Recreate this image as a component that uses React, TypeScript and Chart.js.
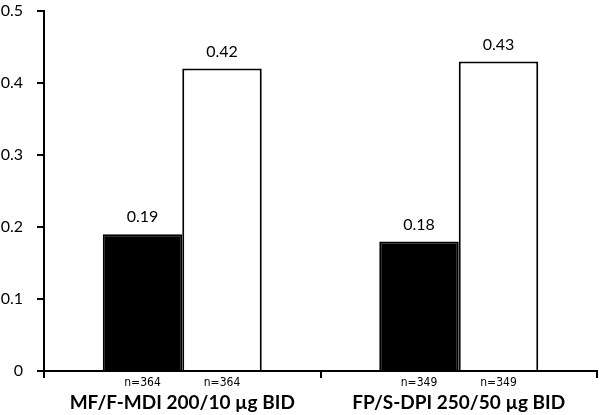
import { useEffect, useRef } from 'react';
import Chart from 'chart.js/auto';

const categories = ['MF/F-MDI 200/10 µg BID', 'FP/S-DPI 250/50 µg BID'];
const firstValues = [0.19, 0.18];
const secondValues = [0.42, 0.43];
const firstCounts = ['n=364', 'n=349'];
const secondCounts = ['n=364', 'n=349'];
const yTicks = [0, 0.1, 0.2, 0.3, 0.4, 0.5];

const FONT = 'Lato, "Open Sans", sans-serif';
const NARROW = '"Liberation Sans Narrow", "DejaVu Sans Condensed", sans-serif';

const barLabels = {
  id: 'barLabels',
  afterDatasetsDraw(chart: Chart) {
    const { ctx, chartArea } = chart;
    const counts = [firstCounts, secondCounts];
    ctx.save();
    ctx.fillStyle = '#000';
    ctx.textAlign = 'center';
    chart.data.datasets.forEach((ds, i) => {
      const meta = chart.getDatasetMeta(i);
      meta.data.forEach((bar: any, j: number) => {
        const v = ds.data[j] as number;
        ctx.font = `16px ${FONT}`;
        ctx.textBaseline = 'bottom';
        ctx.fillText(v.toFixed(2), bar.x, bar.y - 9);
        ctx.font = `12px ${NARROW}`;
        ctx.textBaseline = 'middle';
        ctx.fillText(counts[i][j], bar.x, chartArea.bottom + 12);
      });
    });
    ctx.restore();
  },
};

const App = () => {
  const chartRef = useRef<HTMLCanvasElement>(null);
  const chartInstance = useRef<Chart | null>(null);

  useEffect(() => {
    if (!chartRef.current) return;
    const ctx = chartRef.current.getContext('2d');
    if (!ctx) return;
    if (chartInstance.current) chartInstance.current.destroy();

    chartInstance.current = new Chart(ctx, {
      type: 'bar',
      data: {
        labels: categories,
        datasets: [
          {
            data: firstValues,
            backgroundColor: '#000',
            borderColor: '#000',
            borderWidth: 2,
          },
          {
            data: secondValues,
            backgroundColor: '#fff',
            borderColor: '#000',
            borderWidth: 2,
          },
        ],
      },
      options: {
        responsive: false,
        animation: false,
        categoryPercentage: 0.575,
        barPercentage: 1,
        layout: { padding: { left: 0, top: 0, right: 3, bottom: 0 } },
        plugins: {
          legend: { display: false },
          tooltip: { enabled: false },
        },
        scales: {
          x: {
            offset: true,
            afterFit: (axis) => {
              axis.height = 44;
            },
            border: { color: '#000', width: 2 },
            grid: {
              offset: true,
              drawOnChartArea: false,
              color: '#000',
              lineWidth: 2,
              tickLength: 7,
            },
            ticks: {
              color: '#000',
              padding: 13,
              maxRotation: 0,
              font: { family: FONT, size: 19, weight: 'bold' },
            },
          },
          y: {
            min: 0,
            max: 0.5,
            afterBuildTicks: (axis) => {
              axis.ticks = yTicks.map((value) => ({ value }));
            },
            afterFit: (axis: any) => {
              axis.width = 44;
              axis.paddingTop = 11;
              axis.paddingBottom = 0;
            },
            border: { color: '#000', width: 2 },
            grid: {
              drawOnChartArea: false,
              color: '#000',
              lineWidth: 2,
              tickLength: 7,
            },
            ticks: {
              color: '#000',
              padding: 14,
              font: { family: FONT, size: 16, lineHeight: 1 },
              callback: (v) => String(v),
            },
          },
        },
      },
      plugins: [barLabels],
    });

    return () => {
      if (chartInstance.current) {
        chartInstance.current.destroy();
        chartInstance.current = null;
      }
    };
  }, []);

  return (
    <div style={{ position: 'fixed', left: 0, top: 0, width: 600, height: 415, background: '#fff' }}>
      <canvas ref={chartRef} width={600} height={415} style={{ width: 600, height: 415 }} />
    </div>
  );
};

export default App;
